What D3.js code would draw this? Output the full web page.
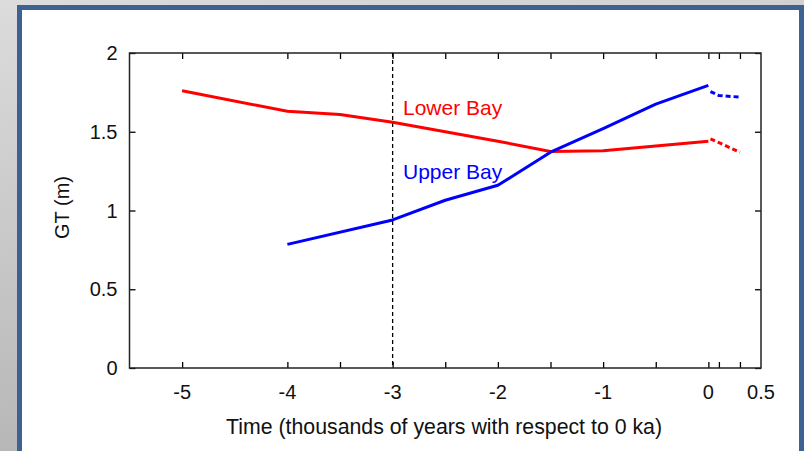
<!DOCTYPE html>
<html>
<head>
<meta charset="utf-8">
<script src="https://cdn.jsdelivr.net/npm/d3@7"></script>
<style>
  html, body { margin: 0; padding: 0; background: #fff; }
  svg { display: block; }
  text { font-family: "Liberation Sans", Arial, sans-serif; }
</style>
</head>
<body>
<svg id="chart" width="804" height="451"></svg>
<script>
// Great diurnal tide range (GT) through time, Lower and Upper Bay
const lowerTime  = [-5, -4, -3.5, -3, -2.5, -2, -1.5, -1, -0.5, 0];
const lowerGT    = [1.76, 1.63, 1.61, 1.56, 1.50, 1.44, 1.375, 1.38, 1.41, 1.44];
const upperTime  = [-4, -3, -2.5, -2, -1.5, -1, -0.5, 0];
const upperGT    = [0.785, 0.94, 1.065, 1.16, 1.37, 1.52, 1.675, 1.795];

// Projected values beyond 0 ka (dashed)
const lowerProjTime = [0.02, 0.3];
const lowerProjGT   = [1.455, 1.37];
const upperProjTime = [0.02, 0.1, 0.3];
const upperProjGT   = [1.755, 1.73, 1.72];

const xTickLabels = [-5, -4, -3, -2, -1, 0, 0.5];
const xMinorTicks = [-5, -4, -3.5, -3, -2.5, -2, -1.5, -1, -0.5, 0, 0.1, 0.3];
const yTickLabels = [0, 0.5, 1, 1.5, 2];
const markerTime  = -3;

const svg = d3.select("#chart");
const W = 804, H = 451;

// Slide-style backdrop: grey gradient with a blue-framed white panel
const defs = svg.append("defs");
const grad = defs.append("linearGradient").attr("id", "bg")
  .attr("x1", 0).attr("y1", 0).attr("x2", 0.3).attr("y2", 1);
grad.append("stop").attr("offset", 0).attr("stop-color", "#dcdcdc");
grad.append("stop").attr("offset", 1).attr("stop-color", "#b4b4b4");
svg.append("rect").attr("width", W).attr("height", H).attr("fill", "url(#bg)");
svg.append("rect").attr("x", 19.5).attr("y", 7.5).attr("width", 782).attr("height", 460)
  .attr("fill", "#fff").attr("stroke", "#3d6190").attr("stroke-width", 5);

const plot = { left: 129.5, right: 761, top: 53, bottom: 368 };
const x = d3.scaleLinear().domain([-5.5, 0.5]).range([plot.left, plot.right]);
const y = d3.scaleLinear().domain([0, 2]).range([plot.bottom, plot.top]);

const tickLen = 6;
const axisColor = "#000";
const g = svg.append("g");

// Inward ticks on all four sides
const bottomAxis = d3.axisBottom(x).tickValues(xMinorTicks).tickSize(-tickLen).tickFormat("");
const topAxis = d3.axisTop(x).tickValues(xMinorTicks).tickSize(-tickLen).tickFormat("");
const leftAxis = d3.axisLeft(y).tickValues(yTickLabels).tickSize(-tickLen).tickFormat("");
const rightAxis = d3.axisRight(y).tickValues(yTickLabels).tickSize(-tickLen).tickFormat("");

function styleAxis(sel) {
  sel.select(".domain").remove();
  sel.selectAll(".tick line").attr("stroke", axisColor).attr("stroke-width", 1.3);
}
g.append("g").attr("transform", `translate(0,${plot.bottom})`).call(bottomAxis).call(styleAxis);
g.append("g").attr("transform", `translate(0,${plot.top})`).call(topAxis).call(styleAxis);
g.append("g").attr("transform", `translate(${plot.left},0)`).call(leftAxis).call(styleAxis);
g.append("g").attr("transform", `translate(${plot.right},0)`).call(rightAxis).call(styleAxis);

// Plot frame
g.append("rect")
  .attr("x", plot.left).attr("y", plot.top)
  .attr("width", plot.right - plot.left).attr("height", plot.bottom - plot.top)
  .attr("fill", "none").attr("stroke", "#222").attr("stroke-width", 1.5);

// Tick labels
g.selectAll(".xl").data(xTickLabels).join("text")
  .attr("x", d => x(d)).attr("y", 399)
  .attr("text-anchor", "middle").attr("font-size", 20).attr("fill", "#111")
  .text(d => d);
g.selectAll(".yl").data(yTickLabels).join("text")
  .attr("x", plot.left - 12).attr("y", d => y(d)).attr("dy", "0.36em")
  .attr("text-anchor", "end").attr("font-size", 20).attr("fill", "#111")
  .text(d => d);

// Axis titles
svg.append("text").attr("x", 444).attr("y", 434)
  .attr("text-anchor", "middle").attr("font-size", 21.3).attr("fill", "#111")
  .text("Time (thousands of years with respect to 0 ka)");
svg.append("text")
  .attr("transform", `translate(69,${(plot.top + plot.bottom) / 2 - 3}) rotate(-90)`)
  .attr("text-anchor", "middle").attr("font-size", 20).attr("fill", "#111")
  .text("GT (m)");

// Vertical marker at -3 ka
g.append("line")
  .attr("x1", x(markerTime)).attr("x2", x(markerTime))
  .attr("y1", plot.top).attr("y2", plot.bottom)
  .attr("stroke", "#000").attr("stroke-width", 1.3).attr("stroke-dasharray", "4,3");

// Series
const line = d3.line().x(d => x(d[0])).y(d => y(d[1]));
const zip = (a, b) => a.map((v, i) => [v, b[i]]);

const series = [
  { time: lowerTime, gt: lowerGT, color: "#ff0000", dash: null },
  { time: upperTime, gt: upperGT, color: "#0000ff", dash: null },
  { time: lowerProjTime, gt: lowerProjGT, color: "#ff0000", dash: "5,3" },
  { time: upperProjTime, gt: upperProjGT, color: "#0000ff", dash: "5,3" }
];
g.selectAll(".series").data(series).join("path")
  .attr("d", s => line(zip(s.time, s.gt)))
  .attr("fill", "none")
  .attr("stroke", s => s.color)
  .attr("stroke-width", 3)
  .attr("stroke-linejoin", "round")
  .attr("stroke-dasharray", s => s.dash);

// Series labels
g.append("text").attr("x", 403).attr("y", 115)
  .attr("font-size", 21).attr("fill", "#ff0000").text("Lower Bay");
g.append("text").attr("x", 403).attr("y", 179)
  .attr("font-size", 21).attr("fill", "#0000ff").text("Upper Bay");
</script>
</body>
</html>
